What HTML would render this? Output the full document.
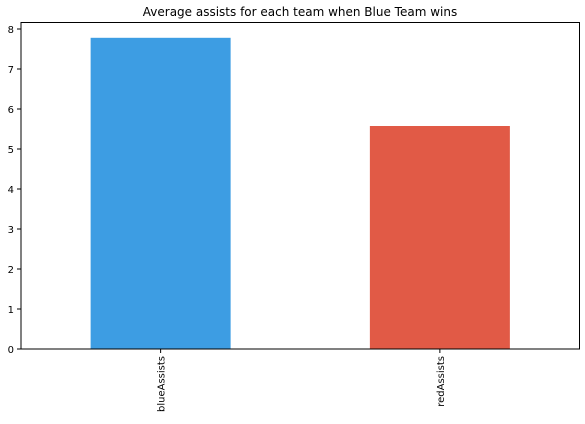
<!DOCTYPE html>
<html><head><meta charset="utf-8"><style>
body{margin:0;background:#fff;width:585px;height:419px;overflow:hidden}
svg text{font-family:"DejaVu Sans","Liberation Sans",sans-serif;fill:#000}
</style></head><body>
<svg id="c" width="585" height="419">
<text x="300" y="16" text-anchor="middle" font-size="12">Average assists for each team when Blue Team wins</text>
<g id="bars"></g><g id="axes"></g>
</svg>
<script>
const categories=["blueAssists","redAssists"];
const values=[7.78,5.575];
const colors=["#3d9de3","#e15a46"];
const yTicks=[0,1,2,3,4,5,6,7,8];
const L=21,R=579.5,T=22.5,B=349,PX=40;
const y=v=>B-v*PX;
const x=i=>L+(R-L)*(i+0.5)/categories.length;
const ns="http://www.w3.org/2000/svg";
const bars=document.getElementById('bars'),axes=document.getElementById('axes');
function mk(tag,attrs,parent){const e=document.createElementNS(ns,tag);for(const k in attrs)e.setAttribute(k,attrs[k]);parent.appendChild(e);return e;}
categories.forEach((c,i)=>{
 const r=mk('rect',{x:x(i)-70,y:y(values[i]),width:140,height:B-y(values[i]),fill:colors[i]},bars);
 
 
 const t=mk('line',{x1:x(i),x2:x(i),y1:B,y2:B+4,stroke:'#000'},axes);
 const lb=mk('text',{x:0,y:0,'font-size':'10','text-anchor':'end',transform:`translate(${x(i)+4},${B+7}) rotate(-90)`},axes);
 lb.textContent=c;
 
 
});
yTicks.forEach(v=>{
 mk('line',{x1:L-4,x2:L,y1:y(v),y2:y(v),stroke:'#000'},axes);
 const t=mk('text',{x:L-7,y:y(v)+4,'font-size':'10','text-anchor':'end'},axes);
 t.textContent=v;
 
 
});
const f=mk('rect',{x:L,y:T,width:R-L,height:B-T,fill:'none',stroke:'#000','stroke-width':1},axes);


</script>
</body></html>
